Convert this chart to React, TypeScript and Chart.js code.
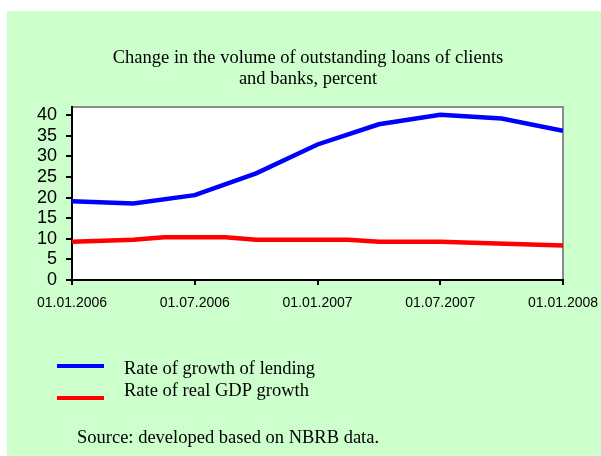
import React, { useEffect, useRef } from "react";
import { Chart, registerables } from "chart.js";

Chart.register(...registerables);

const titleLines = ["Change in the volume of outstanding loans of clients", "and banks, percent"];
const xTickMonths = [0, 6, 12, 18, 24];
const xTickLabels = ["01.01.2006", "01.07.2006", "01.01.2007", "01.07.2007", "01.01.2008"];
const yTicks = [0, 5, 10, 15, 20, 25, 30, 35, 40];

const lendingMonths = [0, 3, 6, 9, 12, 15, 18, 21, 24];
const lendingGrowth = [19.1, 18.6, 20.6, 25.9, 32.9, 37.8, 40.1, 39.2, 36.2];

const gdpMonths = [0, 3, 4.5, 7.5, 9, 13.5, 15, 18, 24];
const gdpGrowth = [9.3, 9.8, 10.4, 10.4, 9.8, 9.8, 9.3, 9.3, 8.4];

const seriesNames = ["Rate of growth of lending", "Rate of real GDP growth"];
const sourceText = "Source: developed based on NBRB data.";

const SERIF = "'Liberation Serif', 'Times New Roman', serif";
const SANS = "'Liberation Sans', Arial, sans-serif";

export default function App() {
  const ref = useRef<HTMLCanvasElement | null>(null);

  useEffect(() => {
    if (!ref.current) return;

    const bgPlugin = {
      id: "bgPlugin",
      beforeDraw(chart: any) {
        const { ctx, chartArea } = chart;
        const { left, top, right, bottom } = chartArea;
        ctx.save();
        ctx.fillStyle = "#ffffff";
        ctx.fillRect(0, 0, chart.width, chart.height);
        ctx.fillStyle = "#ccffcc";
        ctx.fillRect(7, 11, chart.width - 7, chart.height - 11);
        ctx.fillStyle = "#ffffff";
        ctx.fillRect(left, top, right - left, bottom - top);
        ctx.strokeStyle = "#8c8c8c";
        ctx.lineWidth = 2;
        ctx.beginPath();
        ctx.moveTo(left, top);
        ctx.lineTo(right, top);
        ctx.lineTo(right, bottom);
        ctx.stroke();
        ctx.restore();
      },
      afterDraw(chart: any) {
        const { ctx } = chart;
        ctx.save();
        ctx.fillStyle = "#000000";
        ctx.textAlign = "center";
        ctx.textBaseline = "middle";
        ctx.font = `18.5px ${SERIF}`;
        titleLines.forEach((t, i) => ctx.fillText(t, 308, 58 + i * 21));

        const ds = chart.data.datasets;
        const legendY = [366, 398];
        const textY = [369, 391];
        ds.forEach((d: any, i: number) => {
          ctx.strokeStyle = d.borderColor;
          ctx.lineWidth = 4;
          ctx.beginPath();
          ctx.moveTo(57, legendY[i]);
          ctx.lineTo(104, legendY[i]);
          ctx.stroke();
          ctx.textAlign = "left";
          ctx.fillText(seriesNames[i], 124, textY[i]);
        });
        ctx.textAlign = "left";
        ctx.fillText(sourceText, 77, 438);
        ctx.restore();
      },
    };

    const chart = new Chart(ref.current, {
      type: "line",
      data: {
        datasets: [
          {
            label: seriesNames[0],
            data: lendingMonths.map((m, i) => ({ x: m, y: lendingGrowth[i] })),
            borderColor: "#0000ff",
            borderWidth: 4.5,
            pointRadius: 0,
            tension: 0,
          },
          {
            label: seriesNames[1],
            data: gdpMonths.map((m, i) => ({ x: m, y: gdpGrowth[i] })),
            borderColor: "#ff0000",
            borderWidth: 4.5,
            pointRadius: 0,
            tension: 0,
          },
        ],
      },
      options: {
        responsive: false,
        animation: false,
        events: [],
        layout: { padding: { left: 0, right: 38, top: 107, bottom: 146 } },
        plugins: {
          legend: { display: false },
          title: { display: false },
          tooltip: { enabled: false },
        },
        scales: {
          x: {
            type: "linear",
            min: 0,
            max: 24,
            afterBuildTicks(scale: any) {
              scale.ticks = xTickMonths.map((v) => ({ value: v }));
            },
            afterFit(scale: any) {
              scale.height = 30;
              scale.paddingLeft = 0;
              scale.paddingRight = 0;
            },
            ticks: {
              autoSkip: false,
              maxRotation: 0,
              padding: 10,
              color: "#000",
              font: { family: SANS, size: 14 },
              callback(value: any) {
                const idx = xTickMonths.indexOf(Number(value));
                return idx >= 0 ? xTickLabels[idx] : "";
              },
            },
            grid: { drawOnChartArea: false, tickLength: 5, color: "#000", lineWidth: 2 },
            border: { display: true, color: "#000", width: 2 },
          },
          y: {
            type: "linear",
            min: 0,
            max: 42,
            afterBuildTicks(scale: any) {
              scale.ticks = yTicks.map((v) => ({ value: v }));
            },
            afterFit(scale: any) {
              scale.width = 72;
              scale.paddingTop = 0;
              scale.paddingBottom = 0;
            },
            ticks: {
              autoSkip: false,
              padding: 9,
              color: "#000",
              font: { family: SANS, size: 18 },
            },
            grid: { drawOnChartArea: false, tickLength: 6, color: "#000", lineWidth: 2 },
            border: { display: true, color: "#000", width: 2 },
          },
        },
      },
      plugins: [bgPlugin],
    });

    return () => chart.destroy();
  }, []);

  return (
    <canvas
      ref={ref}
      width={601}
      height={456}
      style={{ position: "fixed", left: 0, top: 0, width: 601, height: 456 }}
    />
  );
}
